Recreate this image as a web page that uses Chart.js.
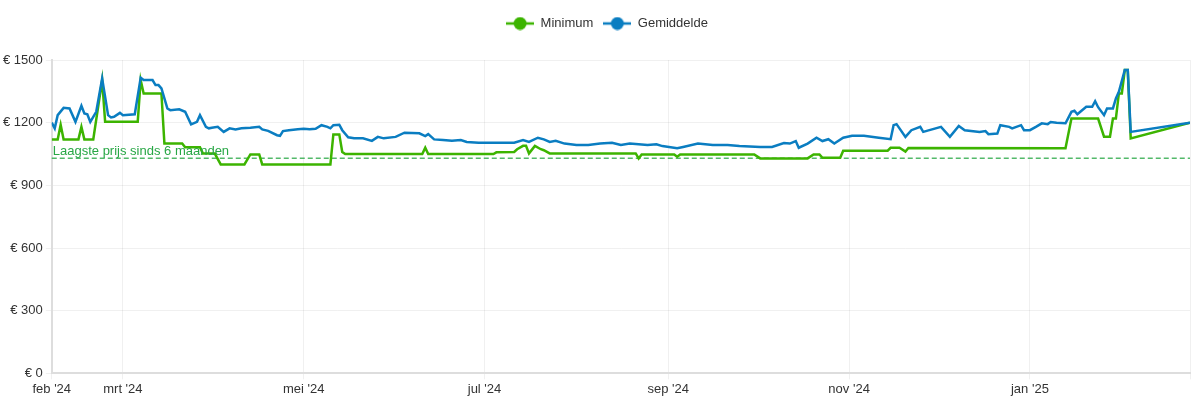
<!DOCTYPE html>
<html>
<head>
<meta charset="utf-8">
<script src="https://cdn.jsdelivr.net/npm/chart.js@4.4.1/dist/chart.umd.min.js"></script>
<style>
  html, body { margin: 0; padding: 0; background: #fff; }
  #wrap { width: 1200px; height: 399px; }
</style>
</head>
<body>
<div id="wrap"><canvas id="priceChart"></canvas></div>
<script>
// x axis range and ticks
const xStart = "2024-02-06";
const xEnd = "2025-02-24";
const tickDates = ["2024-02-06", "2024-03-01", "2024-05-01", "2024-07-01", "2024-09-01", "2024-11-01", "2025-01-01"];
const tickLabels = ["feb '24", "mrt '24", "mei '24", "jul '24", "sep '24", "nov '24", "jan '25"];

const lowestPrice = 1030;
const lowestLabel = "Laagste prijs sinds 6 maanden";

// Minimum
const minDates = [
  "2024-02-06", "2024-02-08", "2024-02-09", "2024-02-10", "2024-02-15", "2024-02-16", "2024-02-17", "2024-02-20",
  "2024-02-23", "2024-02-24", "2024-03-06", "2024-03-07", "2024-03-08", "2024-03-14", "2024-03-15", "2024-03-21",
  "2024-03-22", "2024-03-27", "2024-03-28", "2024-04-01", "2024-04-03", "2024-04-11", "2024-04-13", "2024-04-16",
  "2024-04-17", "2024-05-10", "2024-05-11", "2024-05-13", "2024-05-14", "2024-05-15", "2024-06-10", "2024-06-11",
  "2024-06-12", "2024-07-04", "2024-07-05", "2024-07-11", "2024-07-12", "2024-07-14", "2024-07-15", "2024-07-16",
  "2024-07-18", "2024-07-20", "2024-07-21", "2024-07-23", "2024-08-21", "2024-08-22", "2024-08-23", "2024-09-03",
  "2024-09-04", "2024-09-05", "2024-09-30", "2024-10-02", "2024-10-18", "2024-10-20", "2024-10-22", "2024-10-23",
  "2024-10-29", "2024-10-30", "2024-11-14", "2024-11-15", "2024-11-18", "2024-11-20", "2024-11-21", "2025-01-13",
  "2025-01-15", "2025-01-24", "2025-01-26", "2025-01-28", "2025-01-29", "2025-01-30", "2025-01-31", "2025-02-01",
  "2025-02-02", "2025-02-03", "2025-02-04", "2025-02-24"
];
const minValues = [
  1120, 1120, 1190, 1120, 1120, 1180, 1120, 1120,
  1404, 1205, 1205, 1404, 1340, 1340, 1100, 1100,
  1082, 1082, 1052, 1052, 1000, 1000, 1048, 1048,
  1000, 1000, 1144, 1144, 1060, 1050, 1050, 1080,
  1050, 1050, 1058, 1060, 1073, 1089, 1089, 1053,
  1089, 1073, 1068, 1053, 1053, 1029, 1048, 1048,
  1037, 1048, 1048, 1029, 1029, 1048, 1048, 1032,
  1032, 1066, 1066, 1080, 1080, 1062, 1079, 1078,
  1220, 1220, 1133, 1133, 1220, 1220, 1340, 1340,
  1452, 1452, 1125, 1200
];

// Gemiddelde
const avgDates = [
  "2024-02-06", "2024-02-07", "2024-02-08", "2024-02-10", "2024-02-12", "2024-02-14", "2024-02-16", "2024-02-17",
  "2024-02-18", "2024-02-19", "2024-02-21", "2024-02-23", "2024-02-25", "2024-02-26", "2024-02-27", "2024-02-29",
  "2024-03-01", "2024-03-05", "2024-03-07", "2024-03-08", "2024-03-11", "2024-03-12", "2024-03-13", "2024-03-14",
  "2024-03-16", "2024-03-17", "2024-03-20", "2024-03-22", "2024-03-24", "2024-03-26", "2024-03-27", "2024-03-29",
  "2024-03-30", "2024-03-31", "2024-04-02", "2024-04-04", "2024-04-06", "2024-04-08", "2024-04-10", "2024-04-13",
  "2024-04-16", "2024-04-17", "2024-04-19", "2024-04-22", "2024-04-23", "2024-04-24", "2024-04-26", "2024-04-29",
  "2024-05-01", "2024-05-03", "2024-05-05", "2024-05-07", "2024-05-09", "2024-05-10", "2024-05-11", "2024-05-13",
  "2024-05-14", "2024-05-16", "2024-05-18", "2024-05-21", "2024-05-24", "2024-05-26", "2024-05-28", "2024-06-01",
  "2024-06-04", "2024-06-09", "2024-06-11", "2024-06-12", "2024-06-14", "2024-06-17", "2024-06-20", "2024-06-23",
  "2024-06-25", "2024-06-29", "2024-07-05", "2024-07-11", "2024-07-14", "2024-07-16", "2024-07-19", "2024-07-21",
  "2024-07-23", "2024-07-25", "2024-07-28", "2024-08-01", "2024-08-05", "2024-08-09", "2024-08-13", "2024-08-16",
  "2024-08-19", "2024-08-25", "2024-08-28", "2024-08-30", "2024-09-04", "2024-09-06", "2024-09-11", "2024-09-16",
  "2024-09-21", "2024-09-25", "2024-10-02", "2024-10-06", "2024-10-10", "2024-10-12", "2024-10-14", "2024-10-15",
  "2024-10-18", "2024-10-21", "2024-10-23", "2024-10-25", "2024-10-27", "2024-10-30", "2024-11-02", "2024-11-06",
  "2024-11-11", "2024-11-15", "2024-11-16", "2024-11-17", "2024-11-20", "2024-11-22", "2024-11-25", "2024-11-26",
  "2024-12-02", "2024-12-05", "2024-12-08", "2024-12-10", "2024-12-15", "2024-12-17", "2024-12-18", "2024-12-21",
  "2024-12-22", "2024-12-25", "2024-12-26", "2024-12-29", "2024-12-30", "2025-01-01", "2025-01-03", "2025-01-05",
  "2025-01-07", "2025-01-08", "2025-01-10", "2025-01-13", "2025-01-15", "2025-01-16", "2025-01-17", "2025-01-18",
  "2025-01-20", "2025-01-22", "2025-01-23", "2025-01-24", "2025-01-26", "2025-01-27", "2025-01-29", "2025-01-30",
  "2025-01-31", "2025-02-02", "2025-02-03", "2025-02-04", "2025-02-24"
];
const avgValues = [
  1200, 1173, 1236, 1271, 1268, 1204, 1281, 1244,
  1240, 1204, 1252, 1412, 1236, 1225, 1228, 1247,
  1236, 1240, 1415, 1404, 1404, 1380, 1380, 1364,
  1268, 1260, 1264, 1252, 1192, 1204, 1236, 1180,
  1173, 1176, 1180, 1156, 1173, 1168, 1173, 1176,
  1180, 1168, 1161, 1140, 1137, 1160, 1164, 1168,
  1171, 1168, 1171, 1188, 1180, 1173, 1188, 1190,
  1164, 1130, 1125, 1125, 1113, 1132, 1125, 1132,
  1152, 1149, 1136, 1145, 1120, 1117, 1113, 1117,
  1108, 1104, 1104, 1104, 1117, 1108, 1128, 1120,
  1108, 1113, 1100, 1093, 1093, 1100, 1104, 1093,
  1100, 1093, 1097, 1088, 1078, 1084, 1100, 1093,
  1093, 1088, 1084, 1084, 1103, 1100, 1112, 1080,
  1100, 1128, 1112, 1121, 1100, 1128, 1137, 1137,
  1128, 1121, 1188, 1193, 1132, 1164, 1180, 1156,
  1180, 1132, 1184, 1164, 1156, 1160, 1145, 1148,
  1188, 1180, 1173, 1188, 1164, 1164, 1180, 1197,
  1193, 1203, 1200, 1197, 1252, 1257, 1240, 1252,
  1276, 1276, 1303, 1274, 1236, 1268, 1268, 1316,
  1348, 1452, 1452, 1156, 1200
];

const GREEN = "#3cb400";
const BLUE = "#0a7dc1";

function dayOf(s) {
  var p = s.split("-");
  return Date.UTC(+p[0], +p[1] - 1, +p[2]) / 864e5;
}

function toPoints(dates, values) {
  return dates.map(function (d, i) {
    return { x: dayOf(d), y: values[i] };
  });
}

function legendIcon(color) {
  var c = document.createElement("canvas");
  c.width = 28;
  c.height = 14;
  var g = c.getContext("2d");
  g.strokeStyle = color;
  g.lineWidth = 2.5;
  g.beginPath();
  g.moveTo(0, 7);
  g.lineTo(28, 7);
  g.stroke();
  g.fillStyle = color;
  g.beginPath();
  g.arc(14, 7, 6.5, 0, Math.PI * 2);
  g.fill();
  return c;
}

var icons = [legendIcon(GREEN), legendIcon(BLUE)];
var tickDays = tickDates.map(dayOf);

// dashed "lowest price" line and its label
var lowestLine = {
  id: "lowestLine",
  beforeDatasetsDraw: function (chart) {
    var ctx = chart.ctx;
    var area = chart.chartArea;
    var y = chart.scales.y.getPixelForValue(lowestPrice);
    ctx.save();
    ctx.strokeStyle = "rgba(40,167,69,0.8)";
    ctx.lineWidth = 1.5;
    ctx.setLineDash([5, 3]);
    ctx.beginPath();
    ctx.moveTo(area.left, y);
    ctx.lineTo(area.right, y);
    ctx.stroke();
    ctx.restore();
  },
  afterDatasetsDraw: function (chart) {
    var ctx = chart.ctx;
    var area = chart.chartArea;
    var y = chart.scales.y.getPixelForValue(lowestPrice);
    ctx.save();
    ctx.fillStyle = "#28a745";
    ctx.font = '13px "Liberation Sans", Arial, sans-serif';
    ctx.textBaseline = "bottom";
    ctx.fillText(lowestLabel, area.left + 1, y);
    ctx.restore();
  },
};

// extra room under the legend, and nudge it right
var legendMargin = {
  id: "legendMargin",
  beforeInit: function (chart) {
    var fit = chart.legend.fit;
    chart.legend.fit = function () {
      fit.bind(chart.legend)();
      this.height += 20;
    };
  },
  afterLayout: function (chart) {
    chart.legend.left += 12;
    chart.legend.right += 12;
  },
};

Chart.defaults.font.family = '"Liberation Sans", Arial, sans-serif';
Chart.defaults.font.size = 13;
Chart.defaults.color = "#333";

new Chart(document.getElementById("priceChart"), {
  type: "line",
  data: {
    datasets: [
      {
        label: "Minimum",
        data: toPoints(minDates, minValues),
        borderColor: GREEN,
        backgroundColor: GREEN,
        borderWidth: 2.5,
        pointRadius: 0,
        order: 1,
      },
      {
        label: "Gemiddelde",
        data: toPoints(avgDates, avgValues),
        borderColor: BLUE,
        backgroundColor: BLUE,
        borderWidth: 2.5,
        pointRadius: 0,
        order: 0,
      },
    ],
  },
  options: {
    responsive: true,
    maintainAspectRatio: false,
    animation: false,
    layout: { padding: { top: 7, right: 10 } },
    plugins: {
      legend: {
        labels: {
          usePointStyle: true,
          pointStyleWidth: 28,
          sort: function (a, b) {
            return a.datasetIndex - b.datasetIndex;
          },
          generateLabels: function (chart) {
            return Chart.defaults.plugins.legend.labels.generateLabels(chart).map(function (item) {
              item.pointStyle = icons[item.datasetIndex];
              return item;
            });
          },
        },
      },
      tooltip: { enabled: false },
    },
    scales: {
      x: {
        type: "linear",
        min: dayOf(xStart),
        max: dayOf(xEnd),
        afterBuildTicks: function (scale) {
          scale.ticks = tickDays.concat([dayOf(xEnd)]).map(function (v) {
            return { value: v };
          });
        },
        ticks: {
          autoSkip: false,
          maxRotation: 0,
          padding: 2,
          callback: function (value, index) {
            return tickLabels[index] || "";
          },
        },
        grid: { color: "rgba(0,0,0,0.06)", tickLength: 6 },
        border: { color: "#dddddd", width: 2 },
      },
      y: {
        min: 0,
        max: 1500,
        ticks: {
          stepSize: 300,
          padding: 3,
          callback: function (value) {
            return "€ " + value;
          },
        },
        grid: { color: "rgba(0,0,0,0.06)", tickLength: 6 },
        border: { color: "#dddddd", width: 2 },
      },
    },
  },
  plugins: [lowestLine, legendMargin],
});
</script>
</body>
</html>
